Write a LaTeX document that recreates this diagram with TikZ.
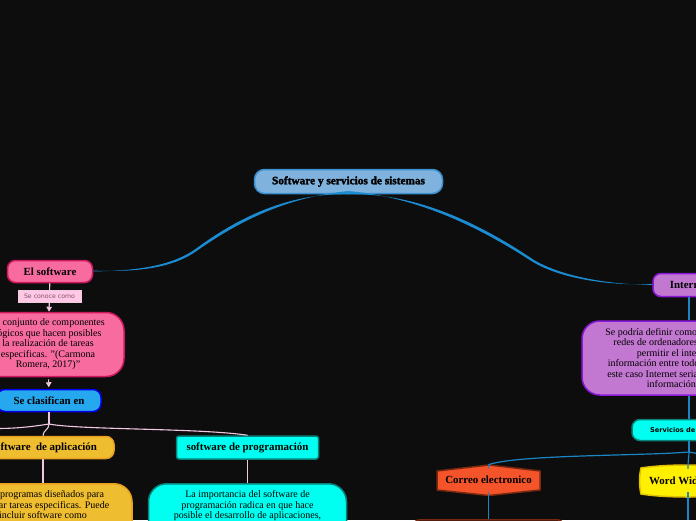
\documentclass[tikz,border=0pt]{standalone}
\usepackage{fontspec}
\usetikzlibrary{arrows.meta}
\setmainfont{Liberation Serif}
\newfontfamily\heavyfont{Liberation Serif}[BoldFeatures={FakeBold=2.2}]
\newfontfamily\uifont{DejaVu Sans}
\definecolor{bgc}{HTML}{0D0D0D}
\definecolor{bluelink}{HTML}{1A86C4}
\definecolor{curvelink}{HTML}{1C8CD2}
\definecolor{pinklink}{HTML}{F0C8E0}
\definecolor{titlefill}{HTML}{7FB2DC}
\definecolor{titleline}{HTML}{3A90D0}
\definecolor{pinkfill}{HTML}{F76B9E}
\definecolor{pinkline}{HTML}{D0185E}
\definecolor{goldfill}{HTML}{EFBD30}
\definecolor{goldline}{HTML}{E8A020}
\definecolor{cyanfill}{HTML}{00FFF0}
\definecolor{cyanline}{HTML}{0A8078}
\definecolor{purplefill}{HTML}{C277D0}
\definecolor{purpleline}{HTML}{8A18D8}
\definecolor{skyfill}{HTML}{26A8EE}
\definecolor{skyline}{HTML}{0000F0}
\definecolor{redfill}{HTML}{F5532A}
\definecolor{redline}{HTML}{7A2810}
\definecolor{yellowfill}{HTML}{FFF000}
\definecolor{yellowline}{HTML}{E0C000}
\definecolor{labelfill}{HTML}{FFC8E4}
\definecolor{labeltext}{HTML}{80506A}
\tikzset{
  box/.style={draw,line width=1.5pt,align=center,inner sep=0pt,text=black,font=\fontsize{10}{10.5}\selectfont},
  headbox/.style={box,font=\fontsize{10.9}{12}\selectfont\bfseries},
  bodytext/.style={align=center,inner sep=0pt,text=black,font=\fontsize{10}{10.5}\selectfont,anchor=north},
  blink/.style={draw=bluelink,line width=1.2pt},
  plink/.style={draw=pinklink,line width=1.1pt},
  ptip/.style={plink,-{Triangle[width=5.5pt,length=5pt]}}
}
\begin{document}
\begin{tikzpicture}[x=1pt,y=-1pt]
\useasboundingbox (0,0) rectangle (696,520);
\clip (0,0) rectangle (696,520);
\fill[bgc] (0,0) rectangle (696,520);
% nodes
\node[box,draw=titleline,fill=titlefill,rounded corners=10pt,minimum width=188pt,minimum height=24pt,font=\fontsize{11.3}{12}\selectfont] (title) at (348.5,181.5) {\heavyfont\bfseries Software y servicios de sistemas};
\node[headbox,draw=pinkline,fill=pinkfill,rounded corners=8pt,minimum width=85pt,minimum height=22pt] (soft) at (50,271.5) {El software};
\node[box,draw=pinklink,line width=.6pt,fill=labelfill,minimum width=63pt,minimum height=12pt,text=labeltext,font=\uifont\fontsize{6.2}{8}\selectfont] (conoce) at (49.5,296.5) {Se conoce como};
\node[box,draw=pinkline,fill=pinkfill,rounded corners=18pt,minimum width=152pt,minimum height=64pt] (def) at (48,344.5) {El conjunto de componentes\\l\'ogicos que hacen posibles\\la realizaci\'on de tareas\\especificas. "(Carmona\\Romera, 2017)"};
\node[headbox,draw=skyline,fill=skyfill,rounded corners=8pt,minimum width=104pt,minimum height=22pt] (clas) at (49,400.5) {Se clasifican en};
\node[headbox,draw=goldline,fill=goldfill,rounded corners=8pt,minimum width=142pt,minimum height=22pt] (apl) at (43,447.5) {Software\ \ de aplicaci\'on};
\node[box,draw=goldline,fill=goldfill,rounded corners=18pt,minimum width=178pt,minimum height=80pt,anchor=north] (aplbox) at (43,483) {};
\node[bodytext] (apltext) at (43,490.5) {Son programas dise\~nados para\\realizar tareas especificas. Puede\\incluir software como};
\node[headbox,draw=cyanline,fill=cyanfill,rounded corners=2.5pt,minimum width=142pt,minimum height=23pt] (prog) at (247.5,447.5) {software de programaci\'on};
\node[box,draw=cyanline,fill=cyanfill,rounded corners=18pt,minimum width=198pt,minimum height=80pt,anchor=north] (progbox) at (247.5,483) {};
\node[bodytext] (progtext) at (247.5,490.5) {La importancia del software de\\programaci\'on radica en que hace\\posible el desarrollo de aplicaciones,};
\node[headbox,draw=purpleline,fill=purplefill,rounded corners=8pt,minimum width=72pt,minimum height=23pt] (inet) at (689,285) {Internet};
\node[box,draw=purpleline,fill=purplefill,rounded corners=18pt,minimum width=214pt,minimum height=74pt] (inetdef) at (689,358) {Se podr\'ia definir como un conjunto de las\\redes de ordenadores conectados para\\permitir el intercambio de\\informaci\'on entre todos los usuarios. En\\este caso Internet seria la red de redes de\\informaci\'on mundial};
\node[box,draw=cyanline,fill=cyanfill,rounded corners=8pt,minimum width=114pt,minimum height=21pt,font=\uifont\bfseries\fontsize{6.6}{8}\selectfont] (serv) at (689,430) {Servicios de Internet};
% hexagon and barrel outlines
\fill[redfill,draw=redline,line width=1.5pt,line join=round] (437,471) -- (489,465) -- (540,471) -- (540,490) -- (489,495.5) -- (437,490) -- cycle;
\node[headbox,minimum width=103pt,minimum height=22pt,draw=none] (correo) at (488.5,480) {Correo electronico};
\fill[yellowfill,draw=yellowline,line width=1.5pt] (641,468) .. controls (665,464) and (711,464) .. (735,468) -- (735,494) .. controls (711,498) and (665,498) .. (641,494) .. controls (639,485) and (639,477) .. (641,468) -- cycle;
\node[headbox,minimum width=94pt,minimum height=22pt,draw=none] (www) at (688,480.5) {Word Wide Web};
\node[box,draw=redline,fill=bgc,rounded corners=8pt,minimum width=153pt,minimum height=20pt,anchor=north] (correobox) at (488.5,519) {};
% free ends of the branches that leave the picture
\coordinate (forkp) at (49,424);
\coordinate (leftend) at (-4,428.5);
\coordinate (forkb) at (689,452);
\coordinate (rightend) at (700,454);
% tapered curves from the title
\fill[curvelink] (title.south) .. controls (290,193) and (240,216) .. (195,249.4) .. controls (168,268) and (130,270.6) .. (soft.east) -- ([yshift=.9pt]soft.east) .. controls (130,271.8) and (169,270.2) .. (196,251.4) .. controls (241,219.5) and (290,196.5) .. ([yshift=3.2pt]title.south) -- cycle;
\fill[curvelink] (title.south) .. controls (410,193) and (470,217) .. (533,259.4) .. controls (562,277) and (610,284.5) .. (inet.west) -- ([yshift=.9pt]inet.west) .. controls (610,285.7) and (561,279.2) .. (532,261.4) .. controls (469,220.5) and (410,196.5) .. ([yshift=3.2pt]title.south) -- cycle;
% pink connectors
\draw[plink] (soft) -- (conoce);
\draw[ptip] (conoce) -- (def);
\draw[ptip,shorten <=2pt,shorten >=1.5pt] (def) -- (clas);
\draw[plink] (clas) -- (forkp);
\draw[plink] (forkp) .. controls (49,430) and (43,430) .. (apl.north);
\draw[plink] (forkp) .. controls (30,427) and (15,428.5) .. (leftend);
\draw[plink] (forkp) .. controls (80,430) and (200,428) .. (prog.north);
\draw[plink] (apl) -- (aplbox);
\draw[plink] (prog) -- (progbox);
% blue connectors
\draw[blink] (inet) -- (inetdef);
\draw[blink] (inetdef) -- (serv);
\draw[blink] (serv) -- (forkb);
\draw[blink] (forkb) .. controls (640,456) and (520,454.5) .. (489,464.5) -- (correo.north);
\draw[blink] (forkb) .. controls (689,458) and (688,458) .. (www.north);
\draw[blink] (forkb) -- (rightend);
\draw[blink] (correo.south) -- (correobox.north);
\draw[blink] (www.south) -- (688,520);
\end{tikzpicture}
\end{document}
